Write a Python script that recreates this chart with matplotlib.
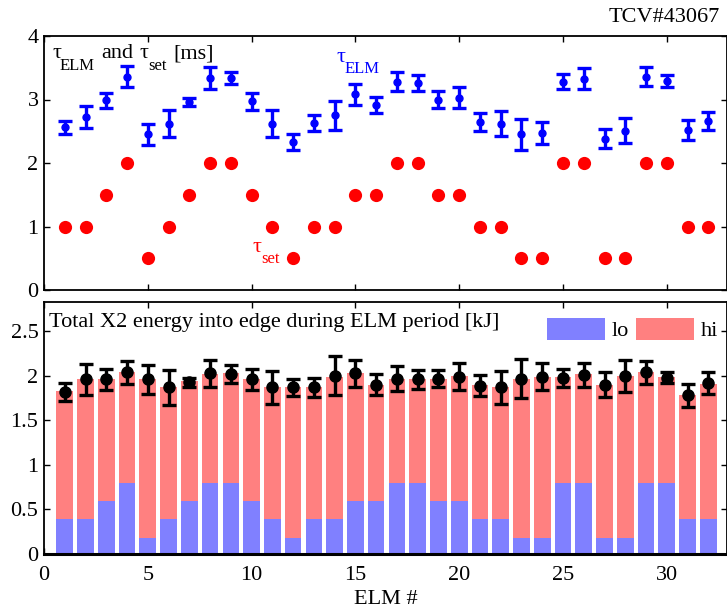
import numpy as np
import matplotlib
matplotlib.use("Agg")
import matplotlib.pyplot as plt

plt.rcParams['font.family'] = ['Liberation Serif', 'DejaVu Serif']

# ELM index
elm = np.arange(1, 33)

# measured ELM period and its uncertainty [ms]
tau_elm = [2.56, 2.72, 2.99, 3.36, 2.45, 2.62, 2.96, 3.34, 3.34, 2.97, 2.62, 2.33,
           2.63, 2.75, 3.08, 2.91, 3.28, 3.26, 3.00, 3.03, 2.64, 2.62, 2.45, 2.47,
           3.28, 3.33, 2.38, 2.51, 3.36, 3.29, 2.52, 2.66]
tau_elm_err = [0.10, 0.17, 0.12, 0.17, 0.17, 0.21, 0.06, 0.17, 0.09, 0.13, 0.21, 0.12,
               0.13, 0.23, 0.17, 0.13, 0.15, 0.13, 0.13, 0.17, 0.14, 0.20, 0.24, 0.17,
               0.12, 0.16, 0.15, 0.20, 0.15, 0.09, 0.15, 0.14]

# requested period [ms]
tau_set = [1, 1, 1.5, 2, 0.5, 1, 1.5, 2, 2, 1.5, 1, 0.5, 1, 1, 1.5, 1.5,
           2, 2, 1.5, 1.5, 1, 1, 0.5, 0.5, 2, 2, 0.5, 0.5, 2, 2, 1, 1]

# X2 energy deposited at the edge per ELM period [kJ]
e_lo = [0.39, 0.39, 0.60, 0.80, 0.18, 0.39, 0.60, 0.80, 0.80, 0.59, 0.39, 0.18,
        0.39, 0.39, 0.59, 0.60, 0.80, 0.80, 0.59, 0.60, 0.39, 0.39, 0.18, 0.18,
        0.80, 0.80, 0.18, 0.18, 0.80, 0.80, 0.39, 0.39]
e_hi = [1.44, 1.57, 1.36, 1.24, 1.78, 1.48, 1.34, 1.22, 1.23, 1.37, 1.48, 1.69,
        1.49, 1.60, 1.44, 1.30, 1.17, 1.16, 1.37, 1.40, 1.51, 1.48, 1.79, 1.81,
        1.19, 1.22, 1.72, 1.82, 1.24, 1.19, 1.39, 1.52]
e_tot = [1.82, 1.96, 1.96, 2.04, 1.96, 1.87, 1.93, 2.03, 2.02, 1.96, 1.87, 1.87,
         1.87, 2.00, 2.03, 1.90, 1.97, 1.96, 1.97, 1.99, 1.89, 1.87, 1.97, 1.99,
         1.98, 2.01, 1.90, 2.00, 2.04, 1.98, 1.78, 1.92]
e_tot_err = [0.10, 0.17, 0.12, 0.13, 0.16, 0.20, 0.05, 0.15, 0.10, 0.12, 0.19, 0.10,
             0.11, 0.22, 0.15, 0.12, 0.14, 0.11, 0.10, 0.15, 0.12, 0.18, 0.22, 0.15,
             0.10, 0.14, 0.14, 0.18, 0.13, 0.06, 0.13, 0.12]

C_LO = '#8080FF'
C_HI = '#FF8080'
FS = 16       # main text size
FS_SUB = 12   # subscript size
SUB_DROP = -7.5  # subscript shift below the main baseline [pt]


def run_text(ax, x, y, runs, color='black', transform=None):
    """Draw a label made of consecutive runs; kind 'sub' runs are set as
    lowered, smaller subscripts. Each run is (text, kind, gap_pt)."""
    if transform is None:
        transform = ax.transData
    txt0, _, _ = runs[0]
    first = ax.text(x, y, txt0, transform=transform, fontsize=FS,
                    color=color, va='baseline', ha='left')
    prev = first
    for txt, kind, gap in runs[1:]:
        if kind == 'sub':
            size, dy = FS_SUB, SUB_DROP
        else:
            size, dy = FS, 0
        prev = ax.annotate(txt, xy=(1, 0), xycoords=(prev, first),
                           xytext=(gap, dy), textcoords='offset points',
                           fontsize=size, color=color, va='bottom', ha='left',
                           annotation_clip=False)
    return first


fig = plt.figure(figsize=(7.27, 6.08), dpi=100)
W, H = 727.0, 608.0
ax1 = fig.add_axes([44 / W, 1 - 290 / H, (727 - 44) / W, (290 - 36) / H])
ax2 = fig.add_axes([44 / W, 1 - 554 / H, (727 - 44) / W, (554 - 302) / H])

XMAX = 32.9

for ax in (ax1, ax2):
    ax.set_xlim(0, XMAX)
    ax.set_xticks([0, 5, 10, 15, 20, 25, 30])
    ax.tick_params(direction='in', top=True, right=True, length=4, width=1,
                   labelsize=FS, pad=4)
    ax.tick_params(axis='x', pad=9)
    for s in ax.spines.values():
        s.set_linewidth(1.3)

# ---- top panel: ELM period ----
ax1.errorbar(elm, tau_elm, yerr=tau_elm_err, fmt='o', color='#0000FF', ms=5,
             elinewidth=2.4, capsize=5, capthick=2.4, zorder=3)
ax1.plot(elm, tau_set, 'o', color='#FF0000', ms=9.5, mec='none', zorder=3)
ax1.set_ylim(0, 4)
ax1.set_yticks([0, 1, 2, 3, 4])
ax1.tick_params(labelbottom=False)

run_text(ax1, 0.012, 0.913,
         [('τ', 'main', 0), ('ELM', 'sub', -1), ('and', 'main', 5),
          ('τ', 'main', 4), ('set', 'sub', 0), ('[ms]', 'main', 5)],
         transform=ax1.transAxes)
run_text(ax1, 14.1, 3.59, [('τ', 'main', 0), ('ELM', 'sub', -0.5)], color='#0000FF')
run_text(ax1, 10.06, 0.60, [('τ', 'main', 0), ('set', 'sub', 0)], color='#FF0000')

fig.text(720 / W, 1 - 18 / H, 'TCV#43067', ha='right', va='center', fontsize=16)

# ---- bottom panel: deposited energy ----
b_lo = ax2.bar(elm, e_lo, width=0.8, color=C_LO, label='lo', zorder=2)
b_hi = ax2.bar(elm, e_hi, width=0.8, bottom=e_lo, color=C_HI, label='hi', zorder=2)
ax2.errorbar(elm, e_tot, yerr=e_tot_err, fmt='o', color='black', ms=8,
             elinewidth=2.4, capsize=5, capthick=2.4, zorder=3)
ax2.set_ylim(0, 2.83)
ax2.set_yticks([0, 0.5, 1, 1.5, 2, 2.5])
ax2.set_yticklabels(['0', '0.5', '1', '1.5', '2', '2.5'])
ax2.spines['bottom'].set_linewidth(2.2)
ax2.set_xlabel('ELM #', fontsize=FS, labelpad=3)
ax2.text(0.008, 0.955, 'Total X2 energy into edge during ELM period [kJ]',
         transform=ax2.transAxes, ha='left', va='top', fontsize=16)
ax2.legend(handles=[b_lo, b_hi], loc='upper right', ncol=2, frameon=False,
           fontsize=FS, handlelength=2.6, handleheight=1.2, handletextpad=0.3,
           columnspacing=0.35, borderaxespad=0.3, bbox_to_anchor=(1.01, 1.0))

fig.savefig('out.png', dpi=100)
